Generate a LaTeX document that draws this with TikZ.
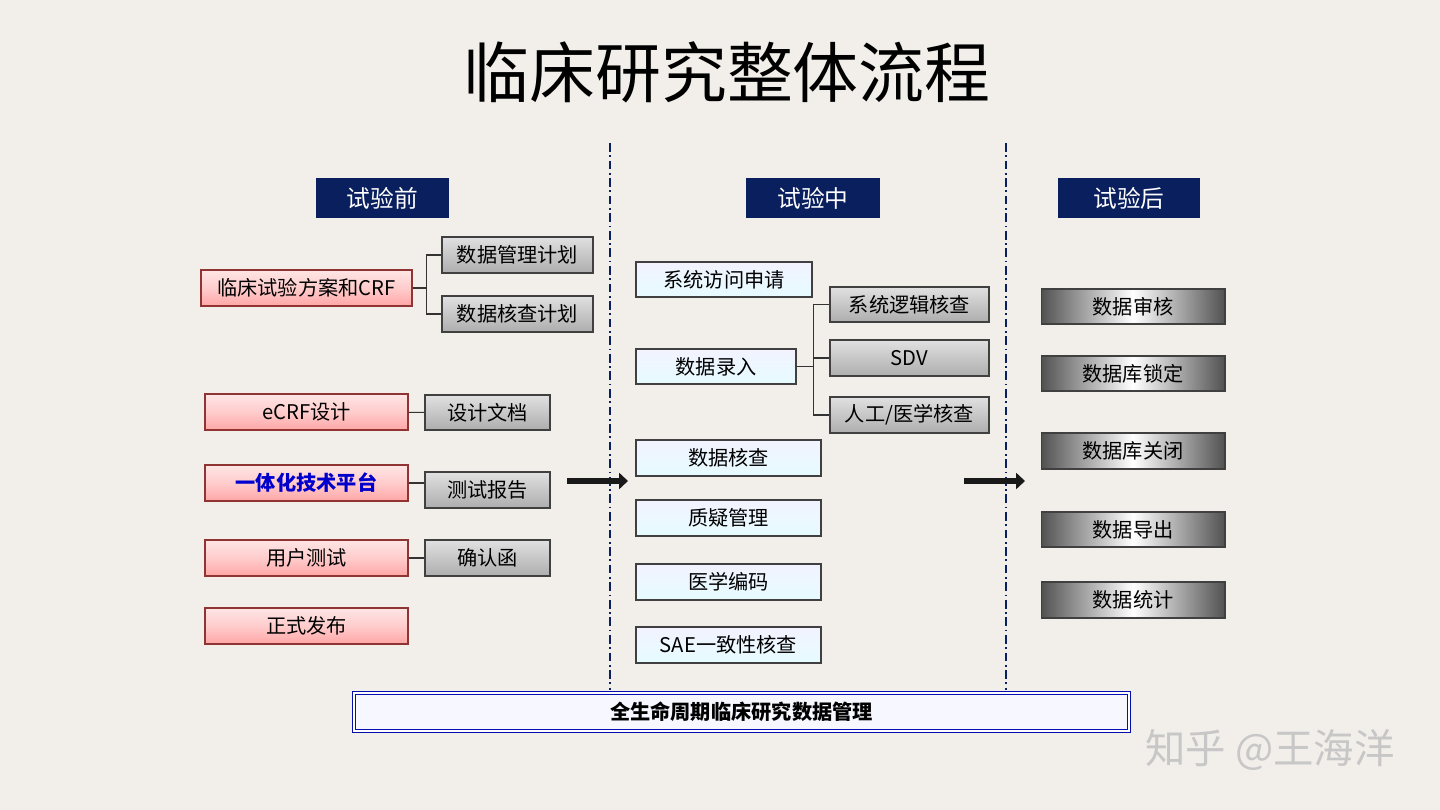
\documentclass[tikz,border=0pt]{standalone}
\usepackage{fontspec}
\setmainfont{Noto Sans CJK SC}
\usetikzlibrary{arrows.meta}
\definecolor{bg}{HTML}{F2EEE9}
\definecolor{navy}{HTML}{0A1F5E}
\tikzset{
 b/.style={draw=black!75,line width=0.6pt,minimum height=0.7cm,inner sep=0pt,font=\fontsize{11.5}{11.5}\selectfont},
 hdr/.style={b,draw=none,fill=navy,text=white,font=\fontsize{13.5}{13.5}\selectfont},
 pink/.style={b,draw=black!55!red!80,top color=red!10,bottom color=red!35,middle color=red!20},
 gray/.style={b,top color=white!88!black,bottom color=black!32},
 blue/.style={b,top color=white!95!blue,bottom color=blue!12!cyan!10!white},
 grad/.style={b,left color=black!68,right color=black!68,middle color=white},
 ln/.style={black!80,line width=0.6pt},
 dline/.style={navy,line width=0.6pt,dash pattern=on 5pt off 2pt on 1pt off 2pt},
 arr/.style={line width=3.5pt,black!90,-{Triangle[length=5pt,width=9pt]}}
}
\begin{document}
\begin{tikzpicture}[x=0.02cm,y=-0.02cm]
\fill[bg] (0,0) rectangle (1440,810);
\useasboundingbox (0,0) rectangle (1440,810);
\node (title) at (727,72) {\fontsize{37.5}{38}\selectfont 临床研究整体流程};
% dashed lines
\coordinate (d1t) at (610,143); \coordinate (d1b) at (610,690);
\coordinate (d2t) at (1006,143); \coordinate (d2b) at (1006,690);
\draw[dline] (d1t) -- (d1b); \draw[dline] (d2t) -- (d2b);
% headers
\node[hdr,minimum width=2.66cm,minimum height=0.8cm] (h1) at (382.5,198) {试验前};
\node[hdr,minimum width=2.68cm,minimum height=0.8cm] (h2) at (813,198) {试验中};
\node[hdr,minimum width=2.84cm,minimum height=0.8cm] (h3) at (1129,198) {试验后};
% left
\node[pink,minimum width=4.22cm,minimum height=0.72cm] (crf) at (306.5,288) {临床试验方案和CRF};
\node[gray,minimum width=3.02cm,minimum height=0.72cm] (p1) at (517.5,255) {数据管理计划};
\node[gray,minimum width=3.02cm,minimum height=0.72cm] (p2) at (517.5,314) {数据核查计划};
\node[pink,minimum width=4.06cm,minimum height=0.72cm] (ecrf) at (306.5,412) {eCRF设计};
\node[gray,minimum width=2.5cm,minimum height=0.7cm] (doc) at (487.5,412.5) {设计文档};
\node[pink,minimum width=4.06cm,minimum height=0.72cm,text=blue!80!black,font=\bfseries\fontsize{11.5}{11.5}\selectfont] (plat) at (306.5,483) {一体化技术平台};
\node[gray,minimum width=2.5cm,minimum height=0.72cm] (rep) at (487.5,490) {测试报告};
\node[pink,minimum width=4.06cm,minimum height=0.72cm] (ut) at (306.5,558) {用户测试};
\node[gray,minimum width=2.5cm,minimum height=0.72cm] (conf) at (487.5,558) {确认函};
\node[pink,minimum width=4.06cm,minimum height=0.72cm] (rel) at (306.5,626) {正式发布};
\draw[ln] (crf.east) -- ++(14,0) coordinate (j1);
\draw[ln] (p1.west) -| (j1) |- (p2.west);
\draw[ln] (ecrf) -- (doc); \draw[ln] (plat.east) -- (rep.west|-plat.east); \draw[ln] (ut) -- (conf);
% arrows
\coordinate (a1s) at (567,481); \coordinate (a1e) at (628,481);
\coordinate (a2s) at (964,481); \coordinate (a2e) at (1025,481);
\draw[arr] (a1s) -- (a1e); \draw[arr] (a2s) -- (a2e);
% middle
\node[blue,minimum width=3.52cm,minimum height=0.7cm] (m1) at (724,279.5) {系统访问申请};
\node[blue,minimum width=3.2cm,minimum height=0.7cm] (m2) at (716,366.5) {数据录入};
\node[blue,minimum width=3.7cm,minimum height=0.72cm] (m3) at (728.5,458) {数据核查};
\node[blue,minimum width=3.7cm,minimum height=0.72cm] (m4) at (728.5,518) {质疑管理};
\node[blue,minimum width=3.7cm,minimum height=0.72cm] (m5) at (728.5,582) {医学编码};
\node[blue,minimum width=3.7cm,minimum height=0.72cm] (m6) at (728.5,645) {SAE一致性核查};
\node[gray,minimum width=3.18cm,minimum height=0.7cm] (s1) at (909.5,304.5) {系统逻辑核查};
\node[gray,minimum width=3.18cm,minimum height=0.72cm] (s2) at (909.5,358) {SDV};
\node[gray,minimum width=3.18cm,minimum height=0.72cm] (s3) at (909.5,415) {人工/医学核查};
\draw[ln] (m2.east) -- ++(17,0) coordinate (j2);
\draw[ln] (s1.west) -| (j2); \draw[ln] (j2) |- (s3.west); \draw[ln] (j2|-s2.west) -- (s2.west);
% right
\node[grad,minimum width=3.68cm,minimum height=0.7cm] (r1) at (1133,306.5) {数据审核};
\node[grad,minimum width=3.68cm,minimum height=0.7cm] (r2) at (1133,373.5) {数据库锁定};
\node[grad,minimum width=3.68cm,minimum height=0.72cm] (r3) at (1133,451) {数据库关闭};
\node[grad,minimum width=3.68cm,minimum height=0.7cm] (r4) at (1133,529.5) {数据导出};
\node[grad,minimum width=3.68cm,minimum height=0.72cm] (r5) at (1133,600) {数据统计};
% bottom
\node[draw=blue!50!navy,double=white,double distance=1.5pt,line width=0.6pt,fill=blue!3,minimum width=15.5cm,minimum height=0.76cm,inner sep=0pt,font=\bfseries\fontsize{11.5}{11.5}\selectfont] (bot) at (741.5,712) {全生命周期临床研究数据管理};
\node[text=black!22,font=\fontsize{23}{23}\selectfont] (wm) at (1270,750) {知乎 @王海洋};
\end{tikzpicture}
\end{document}
